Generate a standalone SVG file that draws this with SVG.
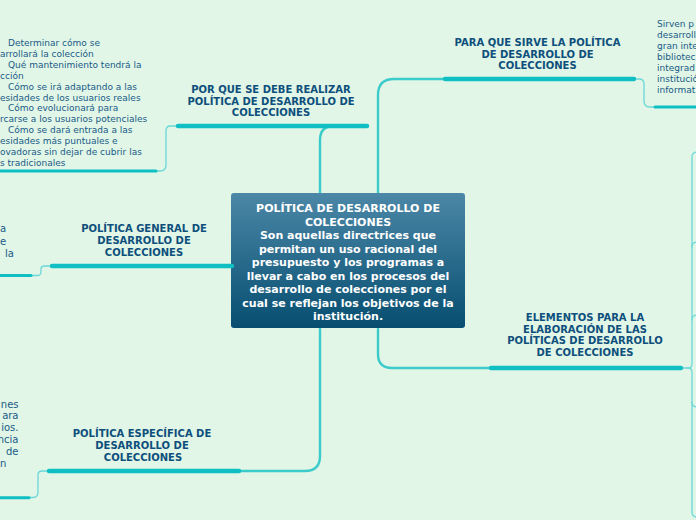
<svg xmlns="http://www.w3.org/2000/svg" width="696" height="520" viewBox="0 0 696 520">
<defs>
<linearGradient id="cg" x1="0" y1="0" x2="0" y2="1">
<stop offset="0" stop-color="#4b87a7"/>
<stop offset="1" stop-color="#074e70"/>
</linearGradient>
<style>
.thin{fill:none;stroke:#3ccbcb;stroke-width:2.4;stroke-linecap:round}
.sub{fill:none;stroke:#6ad8d8;stroke-width:1.3;stroke-linecap:round}
.ul{fill:none;stroke:#0fbfc4;stroke-width:4.4;stroke-linecap:round}
.ul2{fill:none;stroke:#0fbfc4;stroke-width:3;stroke-linecap:round}
.lbl{font-family:"DejaVu Sans",Verdana,sans-serif;font-size:10px;font-weight:bold;fill:#0e4f7c;text-anchor:middle}
.ctr{font-family:"DejaVu Sans",Verdana,sans-serif;font-size:11px;font-weight:bold;fill:#ffffff;text-anchor:middle}
.t9{font-family:"DejaVu Sans",Verdana,sans-serif;font-size:9px;fill:#1a5a86}
.t10{font-family:"DejaVu Sans",Verdana,sans-serif;font-size:10px;fill:#1a5a86}
</style>
</defs>
<rect width="696" height="520" fill="#e1f6e7"/>

<g id="connectors">
<path class="thin" d="M320,193 V140 Q320,126 334,126 H368"/>
<path class="thin" d="M378,193 V95 Q378,79 394,79 H443"/>
<path class="thin" d="M378,329 V354 Q378,368 392,368 H489"/>
<path class="thin" d="M320,329 V456 Q320,471 305,471 H240"/>
<path class="sub" d="M176,126 H170 Q166,126 166,131 V165 Q166,171 160,171 H157"/>
<path class="sub" d="M635,79 H639 Q644,79 644,84 V101 Q644,107 650,107 H654"/>
<path class="sub" d="M50,266 H44 Q41,266 41,269 V272 Q41,275.5 37,275.5 H32"/>
<path class="sub" d="M47,471 H42 Q38,471 38,475 V492 Q38,497.5 33,497.5 H30"/>
<path class="sub" d="M682,368 H688 Q692,368 692,364 V157 Q692,152 697,152"/>
<path class="sub" d="M692,247 Q692,242 697,242"/>
<path class="sub" d="M692,320 Q692,315 697,315"/>
<path class="sub" d="M688,368 Q692,368 692,372 V512 Q692,517 697,517"/>
<path class="sub" d="M692,402 Q692,407 697,407"/>
</g>

<g id="center">
<rect x="231" y="193" width="234" height="135" rx="3" fill="url(#cg)"/>
<text class="ctr" x="348" y="212">POLÍTICA DE DESARROLLO DE</text>
<text class="ctr" x="348" y="225.5">COLECCIONES</text>
<text class="ctr" x="348" y="239">Son aquellas directrices que</text>
<text class="ctr" x="348" y="252.5">permitan un uso racional del</text>
<text class="ctr" x="348" y="266">presupuesto y los programas a</text>
<text class="ctr" x="348" y="279.5">llevar a cabo en los procesos del</text>
<text class="ctr" x="348" y="293">desarrollo de colecciones por el</text>
<text class="ctr" x="348" y="306.5">cual se reflejan los objetivos de la</text>
<text class="ctr" x="348" y="320">institución.</text>
</g>

<g id="por-que">
<line class="ul" x1="178" y1="126" x2="367" y2="126"/>
<text class="lbl" x="271" y="93">POR QUE SE DEBE REALIZAR</text>
<text class="lbl" x="271" y="104.5">POLÍTICA DE DESARROLLO DE</text>
<text class="lbl" x="271" y="116">COLECCIONES</text>
</g>

<g id="por-que-detalle">
<line class="ul2" x1="-2" y1="171" x2="156" y2="171"/>
<text class="t9" x="8" y="46">Determinar cómo se</text>
<text class="t9" x="0" y="56.9">arrollará la colección</text>
<text class="t9" x="8" y="67.8">Qué mantenimiento tendrá la</text>
<text class="t9" x="0" y="78.7">cción</text>
<text class="t9" x="8" y="89.6">Cómo se irá adaptando a las</text>
<text class="t9" x="0" y="100.5">esidades de los usuarios reales</text>
<text class="t9" x="8" y="111.4">Cómo evolucionará para</text>
<text class="t9" x="0" y="122.3">rcarse a los usuarios potenciales</text>
<text class="t9" x="8" y="133.2">Cómo se dará entrada a las</text>
<text class="t9" x="0" y="144.1">esidades más puntuales e</text>
<text class="t9" x="0" y="155">ovadoras sin dejar de cubrir las</text>
<text class="t9" x="0" y="165.9">s tradicionales</text>
</g>

<g id="para-que">
<line class="ul" x1="445" y1="79" x2="634" y2="79"/>
<text class="lbl" x="537.5" y="46">PARA QUE SIRVE LA POLÍTICA</text>
<text class="lbl" x="537.5" y="57.7">DE DESARROLLO DE</text>
<text class="lbl" x="537.5" y="69.4">COLECCIONES</text>
</g>

<g id="para-que-detalle">
<line class="ul2" x1="655" y1="107" x2="698" y2="107"/>
<text class="t9" x="657" y="27.3">Sirven p</text>
<text class="t9" x="657" y="38.2">desarroll</text>
<text class="t9" x="657" y="49.1">gran inte</text>
<text class="t9" x="657" y="60">bibliotec</text>
<text class="t9" x="657" y="70.9">integrad</text>
<text class="t9" x="657" y="81.8">institució</text>
<text class="t9" x="657" y="92.7">informat</text>
</g>

<g id="general">
<line class="ul" x1="52" y1="266" x2="232" y2="266"/>
<text class="lbl" x="144" y="232.3">POLÍTICA GENERAL DE</text>
<text class="lbl" x="144" y="244">DESARROLLO DE</text>
<text class="lbl" x="144" y="255.7">COLECCIONES</text>
</g>

<g id="general-detalle">
<line class="ul2" x1="-2" y1="275.5" x2="31" y2="275.5"/>
<text class="t10" x="0" y="232">a</text>
<text class="t10" x="0" y="244.5">e</text>
<text class="t10" x="5" y="257">la</text>
</g>

<g id="especifica">
<line class="ul" x1="49" y1="471" x2="239" y2="471"/>
<text class="lbl" x="142" y="437.3">POLÍTICA ESPECÍFICA DE</text>
<text class="lbl" x="142" y="449">DESARROLLO DE</text>
<text class="lbl" x="143" y="460.7">COLECCIONES</text>
</g>

<g id="especifica-detalle">
<line class="ul2" x1="-2" y1="497.7" x2="29" y2="497.7"/>
<text class="t10" x="18.5" y="407.5" text-anchor="end">nes</text>
<text class="t10" x="18.5" y="419.4" text-anchor="end">ara</text>
<text class="t10" x="18.5" y="431.2" text-anchor="end">ios.</text>
<text class="t10" x="18.5" y="443.1" text-anchor="end">ncia</text>
<text class="t10" x="18.5" y="455" text-anchor="end">de</text>
<text class="t10" x="0" y="466.8">n</text>
</g>

<g id="elementos">
<line class="ul" x1="491" y1="368" x2="681" y2="368"/>
<text class="lbl" x="585" y="321">ELEMENTOS PARA LA</text>
<text class="lbl" x="585" y="332.7">ELABORACIÓN DE LAS</text>
<text class="lbl" x="585" y="344.4">POLÍTICAS DE DESARROLLO</text>
<text class="lbl" x="585" y="356.1">DE COLECCIONES</text>
</g>
</svg>
